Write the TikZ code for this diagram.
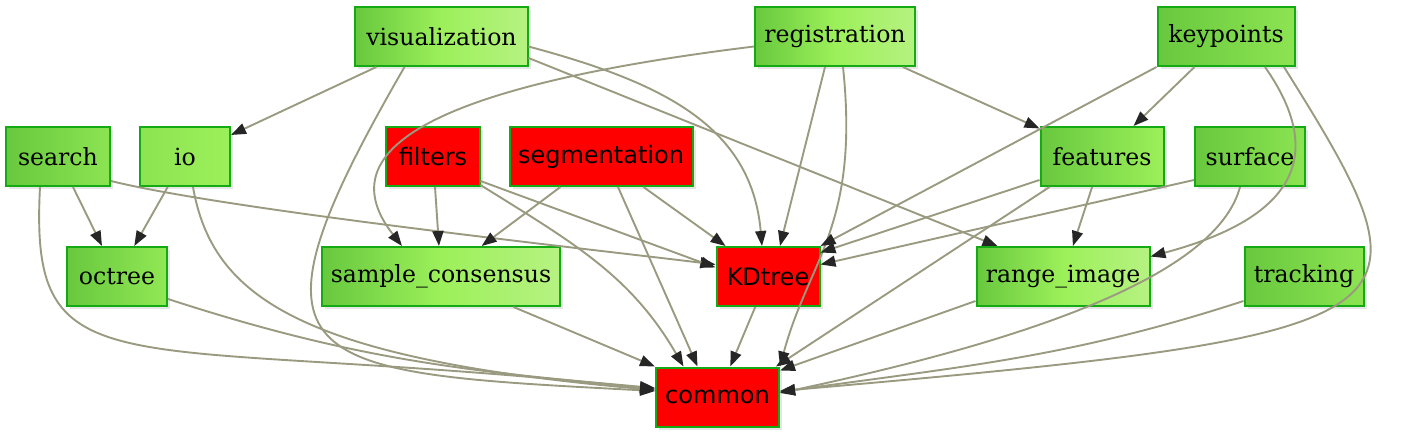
\documentclass[tikz,border=0pt]{standalone}
\usepackage{fontspec}
\setmainfont{DejaVu Serif}
\newfontfamily\redfont{DejaVu Sans}
\usepackage{tikz}
\usetikzlibrary{positioning,calc,arrows.meta,shadows}
\definecolor{gdark}{RGB}{104,200,62}
\definecolor{gmid}{RGB}{156,240,90}
\definecolor{glight}{RGB}{182,242,130}
\definecolor{gline}{RGB}{20,170,20}
\definecolor{depgray}{RGB}{154,154,128}
\tikzset{
    module/.style={
        rectangle,
        draw=gline,
        line width=1pt,
        left color=gdark,
        right color=glight,
        middle color=gmid,
        minimum height=29.5pt,
        inner sep=2pt,
        font=\fontsize{11.8}{14}\selectfont,
        drop shadow={shadow xshift=1.5pt, shadow yshift=-1.5pt, opacity=0.2},
    },
    core/.style={
        rectangle,
        draw=gline,
        line width=1pt,
        fill=red,
        minimum height=29.5pt,
        inner sep=2pt,
        font=\redfont\fontsize{12}{14}\selectfont,
        drop shadow={shadow xshift=1.5pt, shadow yshift=-1.5pt, opacity=0.2},
    },
    dep/.style={
        color=depgray,
        line width=0.95pt,
        -{Triangle[length=7.5pt,width=5.5pt,color=black!85]},
    },
}

\begin{document}
\begin{tikzpicture}[
    on grid,
    semithick] 

\useasboundingbox (-358.75pt,-18.5pt) rectangle (346.75pt,198.5pt);

% common
\node [core, minimum width=61.5pt] (common) at (0,0) {common};
% KDtree
\node [core, minimum width=51.5pt] (KDtree) [above right=60.25pt and 25.25pt of common] {KDtree};
% bottom row of modules
\node [module, minimum width=118.5pt] (sample_consensus) [left=163.5pt of KDtree] {sample\_consensus};
\node [module, minimum width=50pt, right color=gmid!80!gdark] (octree) [left=162pt of sample_consensus] {octree};
\node [module, minimum width=86.5pt] (range_image) [right=147.5pt of KDtree] {range\_image};
\node [module, minimum width=59.5pt, right color=gmid!70!gdark] (tracking) [right=120.5pt of range_image] {tracking};
% middle row
\node [core, minimum width=46.5pt] (filters) [above left=60pt and 4pt of sample_consensus] {filters};
\node [module, minimum width=45pt, left color=gmid!70!gdark, right color=gmid] (io) [left=124pt of filters] {io};
\node [module, minimum width=52pt, right color=gmid!70!gdark] (search) [left=63.5pt of io] {search};
\node [core, minimum width=91.5pt] (segmentation) [right=84pt of filters] {segmentation};
\node [module, minimum width=61.5pt, right color=gmid] (features) [right=250.5pt of segmentation] {features};
\node [module, minimum width=55pt, right color=gmid!70!gdark] (surface) [right=74pt of features] {surface};
% top row
\node [module, minimum width=86pt] (visualization) [above right=60pt and 4.25pt of filters] {visualization};
\node [module, minimum width=80pt] (registration) [right=196.75pt of visualization] {registration};
\node [module, minimum width=68.5pt, right color=gmid!70!gdark] (keypoints) [right=195.5pt of registration] {keypoints};

% Dependencies
\path [dep]
    (visualization) edge (io)
    ([xshift=-18.5pt]visualization.south) edge [out=-120, in=177, out distance=175pt, in distance=180pt] ([yshift=3pt]common.west)
    ([yshift=-5pt]visualization.east) edge [out=-15, in=95, out distance=70pt, in distance=60pt] ([xshift=-3pt]KDtree.north)
    ([yshift=-10.75pt]visualization.east) edge ([xshift=11pt]range_image.north west)
    ([yshift=-5pt]registration.west) edge [out=-173, in=128, out distance=168pt, in distance=59pt] ([xshift=-19.5pt]sample_consensus.north)
    ([xshift=-5pt]registration.south) edge ([xshift=6pt]KDtree.north)
    ([xshift=4pt]registration.south) edge [out=-84, in=75, out distance=80pt, in distance=55pt] (common.north east)
    (registration) edge (features)
    (keypoints) edge (features)
    (keypoints.south west) edge (KDtree.north east)
    ([xshift=19.5pt]keypoints.south) edge [out=-55, in=15, out distance=65pt, in distance=60pt] ([yshift=10pt]range_image.east)
    ([xshift=29pt]keypoints.south) edge [out=-58, in=5, out distance=150pt, in distance=330pt] ([yshift=3pt]common.east)
    (search) edge (octree)
    ([yshift=3pt]search.south east) edge [out=-14, in=173, looseness=0.5] ([yshift=6pt]KDtree.west)
    ([xshift=-9pt]search.south) edge [out=-93, in=174, out distance=105pt, in distance=270pt] ([yshift=4pt]common.west)
    (io) edge (octree)
    ([xshift=4pt]io.south) edge [out=-80, in=175, out distance=55pt, in distance=180pt] ([yshift=3.5pt]common.west)
    (filters) edge (sample_consensus)
    ([yshift=3pt]filters.south east) edge ([yshift=4.5pt]KDtree.west)
    ([yshift=1pt]filters.south east) edge [out=-32, in=120] ([xshift=-17pt]common.north)
    (segmentation) edge (sample_consensus)
    (segmentation) edge (KDtree)
    ([xshift=8.5pt]segmentation.south) edge ([xshift=-10pt]common.north)
    ([yshift=3.5pt]features.south west) edge ([yshift=12pt]KDtree.east)
    (features) edge (range_image)
    ([xshift=5pt]features.south west) edge ([xshift=-2pt]common.north east)
    ([yshift=3.5pt]surface.south west) edge ([yshift=6pt]KDtree.east)
    ([xshift=-5pt]surface.south) edge [out=-105, in=12, out distance=40pt, in distance=150pt] ([yshift=2pt]common.east)
    ([yshift=4pt]octree.south east) edge [out=-18, in=175] ([yshift=4.5pt]common.west)
    ([xshift=-23.5pt]sample_consensus.south east) edge (common.north west)
    (KDtree) edge (common)
    ([yshift=3pt]range_image.south west) edge ([yshift=-2pt]common.north east)
    ([yshift=3pt]tracking.south west) edge [out=-162, in=8] ([yshift=2.5pt]common.east);

\end{tikzpicture}
\end{document}
